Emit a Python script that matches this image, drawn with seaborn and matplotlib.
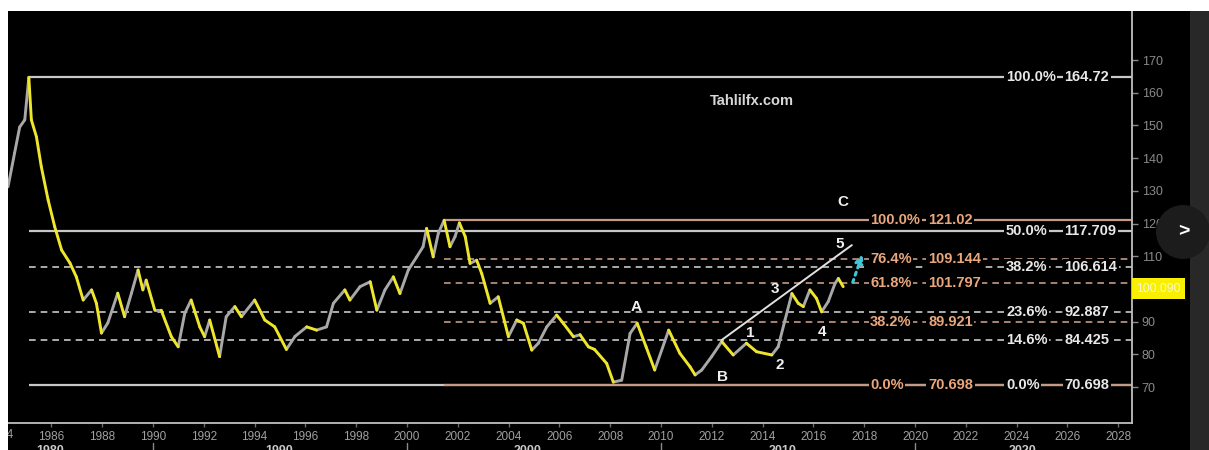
import numpy as np
import pandas as pd
import matplotlib
matplotlib.use("Agg")
import matplotlib.pyplot as plt
import matplotlib.transforms as mtransforms
from matplotlib.patches import Rectangle, Ellipse
import seaborn as sns

# ---------------- data ----------------
years = [1984.29, 1984.55, 1984.75, 1984.95, 1985.11, 1985.21, 1985.41, 1985.60, 1985.87,
         1986.13, 1986.40, 1986.73, 1986.98, 1987.25, 1987.58, 1987.77, 1987.97, 1988.22,
         1988.61, 1988.88, 1989.15, 1989.41, 1989.60, 1989.73, 1990.07, 1990.32, 1990.72,
         1990.99, 1991.25, 1991.50, 1991.84, 1992.03, 1992.23, 1992.62, 1992.88, 1993.22,
         1993.48, 1994.00, 1994.40, 1994.79, 1995.25, 1995.59, 1996.05, 1996.44, 1996.83,
         1997.10, 1997.55, 1997.75, 1998.15, 1998.55, 1998.81, 1999.13, 1999.46, 1999.72,
         2000.05, 2000.38, 2000.63, 2000.77, 2001.03, 2001.23, 2001.46, 2001.69, 2001.89,
         2002.06, 2002.29, 2002.48, 2002.74, 2002.94, 2003.27, 2003.59, 2003.99, 2004.32,
         2004.58, 2004.91, 2005.17, 2005.50, 2005.89, 2006.15, 2006.55, 2006.81, 2007.14,
         2007.38, 2007.86, 2008.12, 2008.45, 2008.78, 2009.06, 2009.41, 2009.75, 2010.30,
         2010.74, 2011.14, 2011.34, 2011.60, 2011.99, 2012.39, 2012.84, 2013.36, 2013.76,
         2014.36, 2014.61, 2014.88, 2015.15, 2015.40, 2015.60, 2015.86, 2016.12, 2016.32,
         2016.58, 2016.85, 2016.98, 2017.17]
values = [131.2, 141.6, 149.5, 151.7, 164.7, 151.7, 146.5, 137.4, 127.2,
          119.0, 111.9, 107.9, 103.7, 96.6, 99.7, 95.6, 86.5, 89.6,
          98.7, 91.5, 98.7, 105.8, 99.7, 102.7, 93.5, 93.5, 85.4,
          82.3, 92.6, 96.6, 88.4, 85.4, 90.5, 79.3, 91.5, 94.6,
          91.5, 96.6, 90.5, 88.4, 81.5, 85.5, 88.4, 87.4, 88.4,
          95.6, 99.7, 96.6, 100.7, 102.2, 93.5, 99.7, 103.7, 98.6,
          105.8, 109.8, 112.9, 118.5, 109.8, 117.0, 121.0, 112.9, 116.0,
          120.2, 116.0, 107.8, 108.8, 104.7, 95.6, 97.6, 85.4, 90.5,
          89.5, 81.3, 83.4, 88.4, 92.0, 89.5, 85.4, 86.0, 82.3,
          81.5, 77.2, 71.5, 72.1, 86.4, 89.5, 82.3, 75.2, 87.4,
          80.3, 76.2, 73.7, 75.2, 79.3, 83.9, 79.8, 83.4, 80.8,
          79.8, 82.3, 90.5, 98.6, 95.6, 94.6, 99.7, 97.1, 93.0,
          96.1, 101.7, 103.2, 100.7]

fib1_pct = ["100.0%", "50.0%", "38.2%", "23.6%", "14.6%", "0.0%"]
fib1_val = ["164.72", "117.709", "106.614", "92.887", "84.425", "70.698"]
fib1_start = 1985.11
fib2_pct = ["100.0%", "76.4%", "61.8%", "38.2%", "0.0%"]
fib2_val = ["121.02", "109.144", "101.797", "89.921", "70.698"]
fib2_start = 2001.46

wave_labels = ["A", "B", "1", "2", "3", "4", "5", "C"]
wave_x = [2009.01, 2012.43, 2013.52, 2014.68, 2014.49, 2016.34, 2017.03, 2017.16]
wave_y = [94.5, 73.2, 86.4, 76.7, 100.0, 86.9, 113.7, 126.6]

trend_x = [2012.39, 2017.51]
trend_y = [84.4, 113.4]
arrow_x = [2017.51, 2017.96]
arrow_y = [101.2, 111.4]
last_price = 100.090

x_ticks = list(range(1986, 2029, 2))
y_ticks = list(range(70, 171, 10))
decade_labels = ["1980", "1990", "2000", "2010", "2020"]
decade_x = [1985.94, 1994.96, 2004.76, 2014.78, 2024.24]
decade_sep = [1990, 2000, 2010, 2020]
watermark = "Tahlilfx.com"

# ---------------- style ----------------
sns.set_style("dark")
plt.rcParams["font.family"] = ["Liberation Sans", "DejaVu Sans"]

W, H = 1209, 450
fig = plt.figure(figsize=(W / 100, H / 100), dpi=100, facecolor="black")
ax = fig.add_axes([8 / W, 27 / H, (1132 - 8) / W, (423 - 11) / H])
ax.set_facecolor("black")

# price series, each segment coloured by direction
rows = []
for i in range(len(years) - 1):
    d = "up" if values[i + 1] >= values[i] else "down"
    rows.append((i, years[i], values[i], d))
    rows.append((i, years[i + 1], values[i + 1], d))
df = pd.DataFrame(rows, columns=["seg", "year", "value", "dir"])
sns.lineplot(data=df, x="year", y="value", units="seg", hue="dir", estimator=None,
             palette={"up": "#a8a8a8", "down": "#efe62c"}, legend=False, sort=False,
             lw=2.1, ax=ax, zorder=3)

xmin, xmax = 1984.29, 2028.54
ax.set_xlim(xmin, xmax)
ax.set_ylim(59, 185)

WHITE_LINE = "#c8c8c8"
TAN_LINE = "#c49a84"
WHITE_TXT = "#e8e8e8"
TAN_TXT = "#eaa77c"
box = dict(fc="black", ec="none", pad=1.2)

# fib set 1 (white)
for p, v in zip(fib1_pct, fib1_val):
    solid = p in ("100.0%", "50.0%", "0.0%")
    ax.hlines(float(v), fib1_start, xmax, colors=WHITE_LINE, lw=1.6 if solid else 1.2,
              linestyles="solid" if solid else (0, (4, 3)), zorder=2)
    ax.text(2023.58, float(v), p, ha="left", va="center", color=WHITE_TXT, fontsize=10.5,
            fontweight="bold", zorder=5, bbox=box)
    ax.text(2025.87, float(v), v, ha="left", va="center", color=WHITE_TXT, fontsize=10.5,
            fontweight="bold", zorder=5, bbox=box)

# fib set 2 (tan)
for p, v in zip(fib2_pct, fib2_val):
    solid = p in ("100.0%", "0.0%")
    ax.hlines(float(v), fib2_start, xmax, colors=TAN_LINE, lw=1.6 if solid else 1.2,
              linestyles="solid" if solid else (0, (4, 3)), zorder=2.5)
    ax.text(2018.23, float(v), p, ha="left", va="center", color=TAN_TXT, fontsize=10.5,
            fontweight="bold", zorder=5, bbox=box)
    ax.text(2020.51, float(v), v, ha="left", va="center", color=TAN_TXT, fontsize=10.5,
            fontweight="bold", zorder=5, bbox=box)

# trend line and projection arrow
ax.plot(trend_x, trend_y, color="#e0e0e0", lw=1.4, zorder=4)
ax.annotate("", xy=(arrow_x[1], arrow_y[1]), xytext=(arrow_x[0], arrow_y[0]),
            arrowprops=dict(arrowstyle="-|>", color="#3cc8d6", lw=2.2,
                            linestyle=(0, (1, 1.5)), mutation_scale=12), zorder=4)

# wave labels
for lab, x, y in zip(wave_labels, wave_x, wave_y):
    ax.text(x, y, lab, ha="center", va="center", color="#f0f0f0", fontsize=11,
            fontweight="bold", zorder=5)

ax.text(2013.57, 157.5, watermark, ha="center", va="center", color="#d8d8d8",
        fontsize=10.5, fontweight="bold", zorder=5)

# axes styling
for s in ("top", "left"):
    ax.spines[s].set_visible(False)
for s in ("right", "bottom"):
    ax.spines[s].set_visible(True)
    ax.spines[s].set_color("#c0c0c0")
    ax.spines[s].set_linewidth(1.3)
ax.grid(False)
ax.yaxis.tick_right()
ax.set_yticks(y_ticks)
ax.set_yticklabels(["" if t == 100 else str(t) for t in y_ticks])
ax.set_xticks(x_ticks)
ax.set_xticklabels([str(t) for t in x_ticks])
ax.tick_params(axis="y", which="both", right=True, left=False, direction="out", length=4,
               width=1, color="#8a8a8a", labelcolor="#8a8a8a", labelsize=9, pad=3)
ax.tick_params(axis="x", which="both", bottom=True, direction="out", length=3, width=1,
               color="#6a6a6a", labelcolor="#a0a0a0", labelsize=8.5, pad=3)
ax.set_xlabel("")
ax.set_ylabel("")

# partially hidden 1984 label at the far left
trans = mtransforms.blended_transform_factory(ax.transData, ax.transAxes)
ax.text(1984.0, -6 / 412, "1984", ha="center", va="top", color="#a0a0a0", fontsize=8.5,
        transform=trans, clip_on=False)

# last price tag
tr2 = mtransforms.blended_transform_factory(ax.transAxes, ax.transData)
ax.text(1.0035, last_price, f"{last_price:.3f}", transform=tr2, ha="left", va="center",
        color="#fbf8c8", fontsize=8.8, zorder=6, clip_on=False,
        bbox=dict(fc="#f8f000", ec="none", pad=3.0))

# decade labels along the bottom edge
trd = mtransforms.blended_transform_factory(ax.transData, fig.transFigure)
for lab, x in zip(decade_labels, decade_x):
    ax.text(x, 5 / H, lab, ha="center", va="top", color="#c8c8c8", fontsize=9,
            fontweight="bold", transform=trd, clip_on=False)
for x in decade_sep:
    ax.plot([x, x], [0, 7 / H], color="#8a8a8a", lw=1, transform=trd, clip_on=False)

# frame decorations: white margins, right grey strip, nav button
fig.patches.append(Rectangle((1190 / W, 0), 19 / W, 1, transform=fig.transFigure,
                             fc="#282828", ec="none", zorder=5))
fig.patches.append(Ellipse((1183 / W, (H - 232) / H), 54 / W, 54 / H,
                           transform=fig.transFigure, fc="#1c1c1c", ec="none", zorder=6))
fig.text(1184 / W, (H - 232) / H, ">", ha="center", va="center", color="white",
         fontsize=14, fontweight="bold", zorder=7)
fig.patches.append(Rectangle((0, (H - 11) / H), 1, 11 / H, transform=fig.transFigure,
                             fc="white", ec="none", zorder=10))
fig.patches.append(Rectangle((0, 0), 8 / W, 1, transform=fig.transFigure,
                             fc="white", ec="none", zorder=10))

fig.savefig("out.png", dpi=100, facecolor="black")
